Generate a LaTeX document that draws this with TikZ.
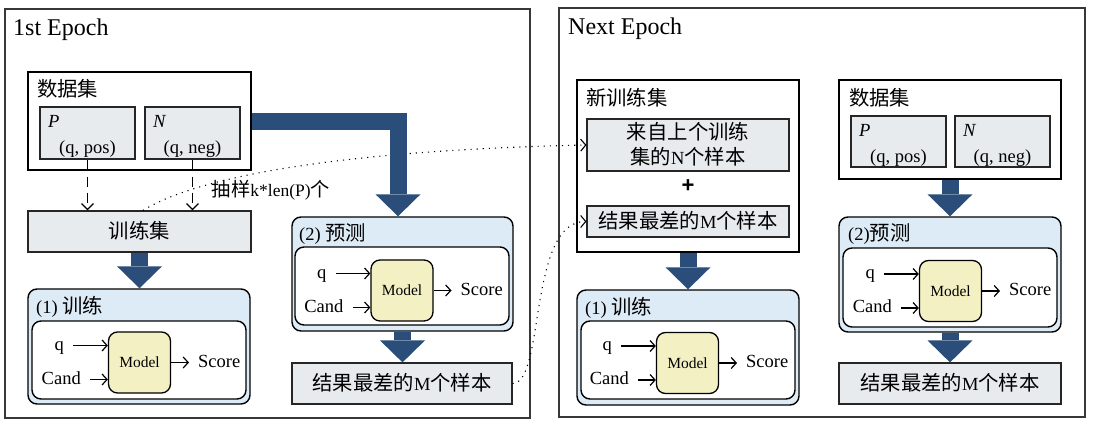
\documentclass[tikz,border=0pt]{standalone}
\usepackage{fontspec}
\setmainfont{Liberation Serif}
\newfontfamily\cjk{Noto Sans CJK SC}[Scale=1.1]
\newfontfamily\plusfont{Liberation Sans}
\usetikzlibrary{arrows.meta,fit}
\definecolor{navy}{RGB}{42,77,122}
\definecolor{bluefill}{RGB}{221,235,247}
\definecolor{grayfill}{RGB}{231,235,238}
\definecolor{modelfill}{RGB}{243,240,196}
\definecolor{framecol}{RGB}{55,55,55}
\tikzset{
  frame/.style={draw=framecol, line width=1.5pt, inner sep=0pt},
  databox/.style={draw=black, line width=1.3pt, fill=white, inner sep=0pt},
  subbox/.style={draw=black!85, line width=1.2pt, fill=grayfill, inner sep=0pt},
  bluebox/.style={draw=black, line width=1.4pt, fill=bluefill, rounded corners=9pt, inner sep=0pt},
  innerbox/.style={draw=black, line width=1.4pt, fill=white, rounded corners=9pt, inner sep=0pt},
  modelbox/.style={draw=black, line width=1.3pt, fill=modelfill, rounded corners=9pt, inner sep=0pt,
    minimum width=62pt, minimum height=61pt, font=\fontsize{15.5}{17}\selectfont},
  lbl/.style={anchor=base west, inner sep=0pt},
  ctext/.style={anchor=base, inner sep=0pt},
  rowtext/.style={inner xsep=9pt, inner ysep=2pt, yshift=-2.5pt},
  titletext/.style={anchor=base west, inner sep=0pt, font=\fontsize{24}{26}\selectfont},
  bigarrow/.style={draw=navy, line width=17pt, -{Triangle[width=45pt,length=22pt,line width=0pt]}},
  smallarr/.style={draw=black, line width=1.2pt, -{Straight Barb[length=5pt,width=11pt]}},
  stub/.style={draw=black, line width=1.2pt},
  dasharr/.style={draw=black, line width=1.2pt, dash pattern=on 10pt off 6pt, dash phase=10pt,
    -{Straight Barb[length=6pt,width=12pt]}},
  dotarr/.style={draw=black, line width=1.1pt, dash pattern=on 1.1pt off 5pt,
    -{Straight Barb[length=5pt,width=12pt]}},
}
\newcommand\mrow[3]{%
  \node[modelbox] (#1m) at (#2,#3) {Model};
  \coordinate (#1qa) at (#2-66.5,#3-17);
  \coordinate (#1ca) at (#2-49.5,#3+17);
  \coordinate (#1sa) at (#2+49.5,#3);
  \node[rowtext, anchor=mid east] (#1q) at (#1qa) {q};
  \node[rowtext, anchor=mid east] (#1c) at (#1ca) {Cand};
  \node[rowtext, anchor=mid west] (#1s) at (#1sa) {Score};
  \draw[smallarr] (#1qa) -- (#1qa -| #1m.west);
  \draw[smallarr] (#1ca) -- (#1ca -| #1m.west);
  \draw[smallarr] (#1m.east) -- (#1sa);
}
\newcommand\pn[7]{%
  \node[subbox, fit={(#2,#3)(#4,#5)}] (#1) {};
  \node[lbl] (#1l) at (#2+8,#3+20) {\textit{#6}};
  \node[ctext] (#1t) at ({(#2+#4)/2},#3+46) {#7};
}
\begin{document}
\begin{tikzpicture}[x=1pt, y=-1pt, font=\fontsize{18.5}{22}\selectfont]
\useasboundingbox (0,0) rectangle (1093,434);

% ---------------- Left panel ----------------
\node[frame, fit={(5,9)(530,418)}] (outerL) {};
\node[titletext] (titleL) at (13,35) {1st Epoch};

\node[databox, fit={(28,72)(251,170)}] (dataL) {};
\node[lbl] (dataLl) at (37,96) {\cjk 数据集};
\pn{PL}{40}{107}{135}{159}{P}{(q, pos)}
\pn{NL}{145}{107}{240}{159}{N}{(q, neg)}

\node[subbox, fit={(28,211)(251,252)}] (trainsetL) {};
\node[ctext] (trainsetLt) at (139.5,238.5) {\cjk 训练集};

\node[bluebox, fit={(28,289)(250,404)}] (trainL) {};
\node[lbl] (trainLl) at (36,313) {(1) {\cjk 训练}};
\node[innerbox, fit={(32,321)(246,399)}] (innerTrainL) {};
\mrow{mA}{139.5}{362.5}

\node[bluebox, fit={(292,217)(513,331)}] (predL) {};
\node[lbl] (predLl) at (299,240) {(2) {\cjk 预测}};
\node[innerbox, fit={(295,247)(509,325)}] (innerPredL) {};
\mrow{mB}{402}{290.5}

\node[subbox, fit={(292,363)(512,404)}] (worstL) {};
\node[ctext] (worstLt) at (402,390.5) {{\cjk 结果最差的}M{\cjk 个样本}};

\node[ctext, font=\fontsize{17.5}{20}\selectfont] (sampleL) at (271,196) {{\cjk 抽样}k*len(P){\cjk 个}};

% ---------------- Right panel ----------------
\node[frame, fit={(559,8)(1085,417)}] (outerR) {};
\node[titletext] (titleR) at (568,34) {Next Epoch};

\node[databox, fit={(577,80)(799,252)}] (newset) {};
\node[lbl] (newsetl) at (586,105) {\cjk 新训练集};
\node[subbox, fit={(587,119)(789,171)}] (prevN) {};
\node[ctext] (prevNa) at (688,139) {\cjk 来自上个训练};
\node[ctext] (prevNb) at (688,164) {{\cjk 集的}N{\cjk 个样本}};
\node[inner sep=0pt, font=\plusfont\bfseries\fontsize{22}{22}\selectfont] (plus) at (688,186) {+};
\node[subbox, fit={(587,206)(789,237)}] (worstInR) {};
\node[ctext] (worstInRt) at (688,228.5) {{\cjk 结果最差的}M{\cjk 个样本}};

\node[bluebox, fit={(577,290)(799,405)}] (trainR) {};
\node[lbl] (trainRl) at (585,314) {(1) {\cjk 训练}};
\node[innerbox, fit={(581,321)(795,399)}] (innerTrainR) {};
\mrow{mC}{687.5}{363}

\node[databox, fit={(839,80)(1061,179)}] (dataR) {};
\node[lbl] (dataRl) at (849,105) {\cjk 数据集};
\pn{PR}{851}{116}{946}{167}{P}{(q, pos)}
\pn{NR}{955}{116}{1050}{167}{N}{(q, neg)}

\node[bluebox, fit={(839,217)(1061,332)}] (predR) {};
\node[lbl] (predRl) at (848,240) {(2){\cjk 预测}};
\node[innerbox, fit={(843,248)(1057,327)}] (innerPredR) {};
\mrow{mD}{950.5}{291}

\node[subbox, fit={(839,363)(1061,404)}] (worstR) {};
\node[ctext] (worstRt) at (950,390.5) {{\cjk 结果最差的}M{\cjk 个样本}};

% ---------------- connectors ----------------
\draw[stub] (PL.south) -- (PL.south |- dataL.south);
\draw[stub] (NL.south) -- (NL.south |- dataL.south);
\draw[dasharr] (PL.south |- dataL.south) -- (PL.south |- trainsetL.north);
\draw[dasharr] (NL.south |- dataL.south) -- (NL.south |- trainsetL.north);

\draw[dotarr] ([xshift=3.5pt]trainsetL.north) .. controls (200,175) and (350,150) .. (prevN.west);
\draw[dotarr] (worstL.east) .. controls (545,383.5) and (528,221.5) .. (worstInR.west);

\draw[bigarrow] (dataL.east) -| ([xshift=-4.5pt]predL.north);
\draw[bigarrow] (trainsetL.south) -- (trainsetL.south |- trainL.north);
\draw[bigarrow] (predL.south) -- (predL.south |- worstL.north);
\draw[bigarrow] (newset.south) -- (newset.south |- trainR.north);
\draw[bigarrow] (dataR.south) -- (dataR.south |- predR.north);
\draw[bigarrow] (predR.south) -- (predR.south |- worstR.north);
\end{tikzpicture}
\end{document}
